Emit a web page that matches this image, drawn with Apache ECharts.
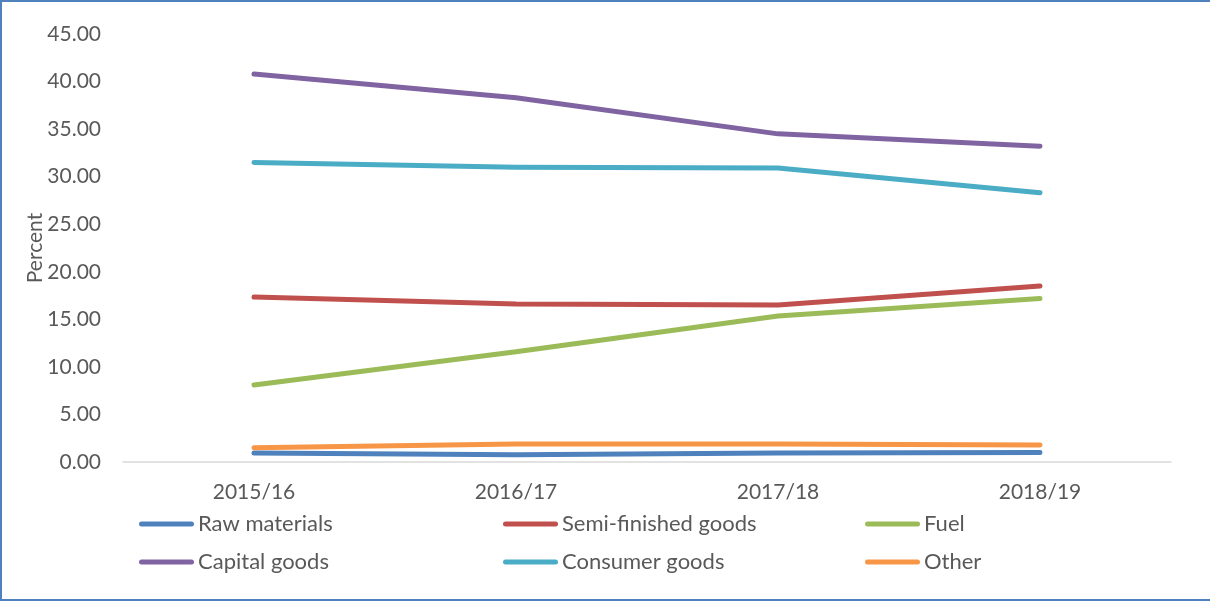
<!DOCTYPE html>
<html>
<head>
<meta charset="utf-8">
<script src="https://cdn.jsdelivr.net/npm/echarts@6/dist/echarts.min.js"></script>
<style>
  html, body { margin: 0; padding: 0; background: #fff; }
  #frame {
    position: absolute; left: 0; top: 0; width: 1210px; height: 601px;
    box-sizing: border-box;
    border-left: 2px solid #4f81bd; border-top: 2px solid #4f81bd; border-bottom: 2px solid #4f81bd;
  }
  #chart { position: absolute; left: 0; top: 0; width: 1210px; height: 601px; }
</style>
</head>
<body>
<div id="frame"></div>
<div id="chart"></div>
<script>
// Share of imports by broad category (percent)
const years = ['2015/16', '2016/17', '2017/18', '2018/19'];
const rawMaterials   = [0.95, 0.75, 0.95, 1.0];
const semiFinished   = [17.35, 16.6, 16.5, 18.5];
const fuel           = [8.1, 11.6, 15.35, 17.2];
const capitalGoods   = [40.8, 38.3, 34.5, 33.2];
const consumerGoods  = [31.5, 31.0, 30.9, 28.3];
const other          = [1.5, 1.9, 1.9, 1.8];
const yTicks = { min: 0, max: 45, interval: 5 };

const seriesList = [
  { name: 'Raw materials',       data: rawMaterials,  color: '#4f81bd' },
  { name: 'Semi-finished goods', data: semiFinished,  color: '#c0504d' },
  { name: 'Fuel',                data: fuel,          color: '#9bbb59' },
  { name: 'Capital goods',       data: capitalGoods,  color: '#8064a2' },
  { name: 'Consumer goods',      data: consumerGoods, color: '#4bacc6' },
  { name: 'Other',               data: other,         color: '#f79646' }
];

const FONT = 'Lato, "Open Sans", sans-serif';
const TEXT = '#595959';

// Legend laid out as a 3x2 table under the plot
const legendCols = [139, 503, 865];
const legendRows = [511, 549];
const legendIcon = 'path://M2.5,0 L52.5,0 A2.5,2.5 0 0 1 52.5,5 L2.5,5 A2.5,2.5 0 0 1 2.5,0 Z';
const legends = seriesList.map((s, i) => ({
  data: [s.name],
  left: legendCols[i % 3],
  top: legendRows[Math.floor(i / 3)],
  icon: legendIcon,
  itemWidth: 55,
  itemHeight: 5,
  itemGap: 0,
  padding: 0,
  selectedMode: false,
  textStyle: { color: TEXT, fontSize: 22, fontFamily: FONT, padding: [0, 0, 0, -1], lineHeight: 26 }
}));

const chart = echarts.init(document.getElementById('chart'), null, { renderer: 'canvas' });
chart.setOption({
  animation: false,
  backgroundColor: 'transparent',
  grid: { left: 123, right: 39, top: 34, bottom: 139, containLabel: false },
  legend: legends,
  xAxis: {
    type: 'category',
    data: years,
    boundaryGap: true,
    axisLine: { lineStyle: { color: '#d9d9d9', width: 1.5 } },
    axisTick: { show: false },
    axisLabel: { color: TEXT, fontSize: 21, fontFamily: FONT, margin: 20 }
  },
  yAxis: {
    type: 'value',
    min: yTicks.min, max: yTicks.max, interval: yTicks.interval,
    name: 'Percent',
    nameLocation: 'middle',
    nameGap: 77,
    nameRotate: 90,
    nameMoveOverlap: false,
    nameTextStyle: { color: TEXT, fontSize: 21, fontFamily: FONT },
    axisLine: { show: false },
    axisTick: { show: false },
    splitLine: { show: false },
    axisLabel: {
      color: TEXT, fontSize: 21, fontFamily: FONT, margin: 22,
      formatter: v => v.toFixed(2)
    }
  },
  series: seriesList.map(s => ({
    name: s.name,
    type: 'line',
    data: s.data,
    showSymbol: false,
    symbol: 'none',
    smooth: false,
    color: s.color,
    lineStyle: { color: s.color, width: 5, cap: 'round', join: 'round' },
    emphasis: { disabled: true }
  }))
});
</script>
</body>
</html>
